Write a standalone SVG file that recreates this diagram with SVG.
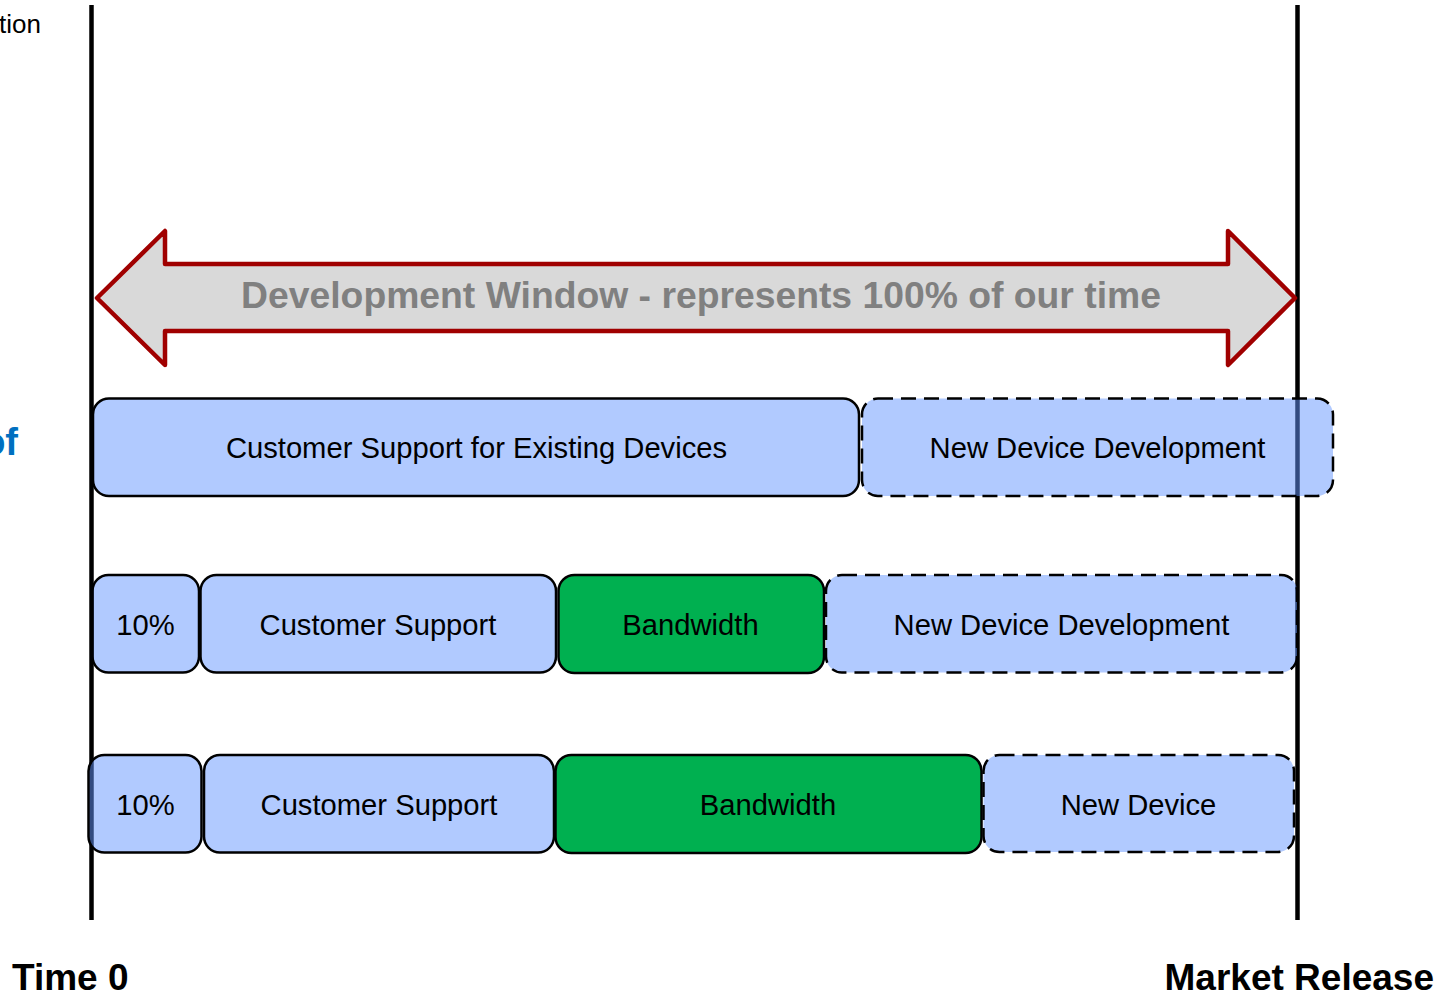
<svg xmlns="http://www.w3.org/2000/svg" width="1453" height="996" viewBox="0 0 1453 996">
<style>
.box{fill:#6495FF;fill-opacity:0.5;stroke:#000;stroke-width:2.5}
.dash{stroke-dasharray:15 8}
.green{fill:#00B050;fill-opacity:1;stroke:#000;stroke-width:2.5}
.lbl{font-family:"Liberation Sans",Arial,sans-serif;font-size:29.2px;fill:#000;text-anchor:middle}
.big{font-family:"Liberation Sans",Arial,sans-serif;font-size:37px;font-weight:bold;fill:#000}
.tl{stroke:#000;stroke-width:4.5}
</style>
<rect width="1453" height="996" fill="#fff"/>
<text x="41" y="33" font-family="Liberation Sans, Arial, sans-serif" font-size="26" text-anchor="end" fill="#000">tion</text>
<text x="18" y="455" font-family="Liberation Sans, Arial, sans-serif" font-size="38" font-weight="bold" text-anchor="end" fill="#0070C0">of</text>
<g id="connectors">
<line class="tl" x1="91.5" y1="5" x2="91.5" y2="920"/>
<line class="tl" x1="1297.5" y1="5" x2="1297.5" y2="920"/>
<g id="dev-window">
<polygon points="97,298 165,231 165,264 1228,264 1228,231 1295,298 1228,365 1228,331 165,331 165,365" fill="#D9D9D9" stroke="#A00000" stroke-width="4.5" stroke-linejoin="round"/>
<text x="701" y="308" font-family="Liberation Sans, Arial, sans-serif" font-size="37.3" font-weight="bold" fill="#808080" text-anchor="middle">Development Window - represents 100% of our time</text>
</g>
</g>
<g id="r1-support"><rect class="box" x="93" y="398.5" width="766" height="97.5" rx="16"/><text class="lbl" x="476.5" y="457.5">Customer Support for Existing Devices</text></g>
<g id="r1-newdev"><rect class="box dash" x="862" y="398.5" width="471" height="97.5" rx="16"/><text class="lbl" x="1097.5" y="457.5">New Device Development</text></g>
<g id="r2-10"><rect class="box" x="92.5" y="575" width="106.5" height="97.5" rx="16"/><text class="lbl" x="145.5" y="634.5">10%</text></g>
<g id="r2-support"><rect class="box" x="200.5" y="575" width="355.5" height="97.5" rx="16"/><text class="lbl" x="378" y="634.5">Customer Support</text></g>
<g id="r2-bandwidth"><rect class="green" x="558.5" y="575" width="265.5" height="98" rx="16"/><text class="lbl" x="690.5" y="634.5">Bandwidth</text></g>
<g id="r2-newdev"><rect class="box dash" x="826" y="575" width="471" height="97.5" rx="16"/><text class="lbl" x="1061.5" y="634.5">New Device Development</text></g>
<g id="r3-10"><rect class="box" x="88.5" y="755" width="113" height="97.5" rx="16"/><text class="lbl" x="145.5" y="814.5">10%</text></g>
<g id="r3-support"><rect class="box" x="204" y="755" width="350" height="97.5" rx="16"/><text class="lbl" x="379" y="814.5">Customer Support</text></g>
<g id="r3-bandwidth"><rect class="green" x="555.5" y="755" width="426" height="98" rx="16"/><text class="lbl" x="768" y="814.5">Bandwidth</text></g>
<g id="r3-newdev"><rect class="box dash" x="983.5" y="755" width="310.5" height="97" rx="16"/><text class="lbl" x="1138.5" y="814.5">New Device</text></g>
<g id="time0"><text class="big" x="12" y="990">Time 0</text></g>
<g id="market-release"><text class="big" x="1434" y="990" text-anchor="end">Market Release</text></g>
</svg>
